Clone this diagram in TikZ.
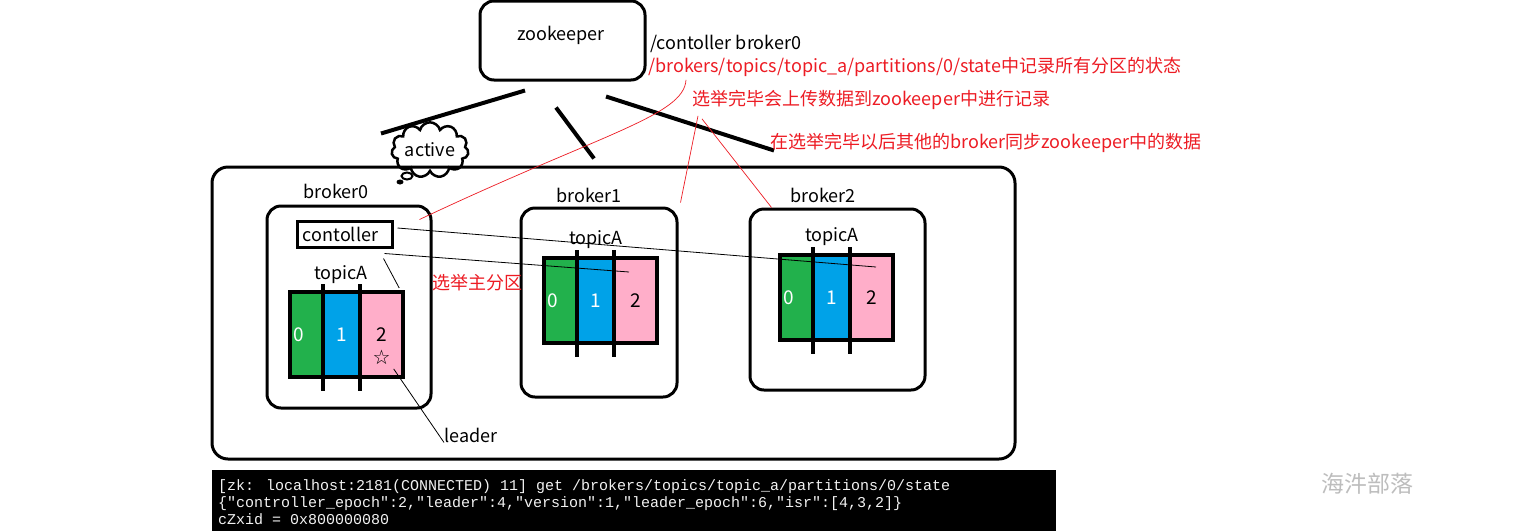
\documentclass[tikz,border=0pt]{standalone}
\usepackage{fontspec}
\setmainfont{Noto Sans CJK SC}
\newfontfamily\termfont{Liberation Mono}
\newfontfamily\symfont{DejaVu Sans}
\usetikzlibrary{shapes.symbols, shapes.geometric, positioning}
\definecolor{notered}{HTML}{ED1C24}
\definecolor{partgreen}{HTML}{22B14C}
\definecolor{partblue}{HTML}{00A2E8}
\definecolor{partpink}{HTML}{FFAEC9}
\definecolor{markgray}{HTML}{BDBDBD}

\begin{document}
\begin{tikzpicture}[x=1pt, y=-1pt,
    roundbox/.style={rectangle, draw, line width=3pt, rounded corners=#1, inner sep=0pt},
    roundbox/.default=14pt,
    lbl/.style={font=\fontsize{18}{20}\selectfont, inner sep=0pt},
    note/.style={lbl, text=notered, anchor=west},
    part/.style={rectangle, fill=#1, minimum height=85pt, inner sep=0pt, anchor=north west,
                 font=\fontsize{19}{20}\selectfont},
    divider/.style={line width=4pt},
    zkline/.style={line width=4pt},
    thinline/.style={line width=0.8pt},
    redline/.style={draw=notered, line width=0.7pt},
]
    \fill[white] (0,0) rectangle (1515,531);
    \useasboundingbox (0,0) rectangle (1515,531);

    % -- zookeeper --
    \node[roundbox, minimum width=165pt, minimum height=79pt] (zk) at (562.5,40.5) {};
    \node[lbl] (zkname) at (561,35) {zookeeper};

    % -- cluster and brokers --
    \node[roundbox=16pt, minimum width=803pt, minimum height=292pt] (cluster) at (613.5,313) {};
    \node[roundbox, minimum width=164pt, minimum height=202pt] (b0) at (349,307) {};
    \node[roundbox, minimum width=156pt, minimum height=189pt] (b1) at (599,302.5) {};
    \node[roundbox, minimum width=175pt, minimum height=181pt] (b2) at (837.5,299.5) {};

    \node[lbl] (b0name) at (336,191) {broker0};
    \node[lbl] (b1name) at (589,195) {broker1};
    \node[lbl] (b2name) at (823,195) {broker2};

    \node[lbl] (b0topic) at (341,275) {topicA};
    \node[lbl] (b1topic) at (596,240) {topicA};
    \node[lbl] (b2topic) at (832,237) {topicA};

    \node[lbl, draw, line width=3pt, minimum width=95pt, minimum height=26pt] (ctl) at (344.5,234) {contoller\hspace*{8pt}};

    % partitions 0 1 2 of every broker
    \foreach \br/\px/\py in {b0/290/292, b1/544/258, b2/780/255}{
        \node[part=partgreen, minimum width=33pt,
              label={[font=\fontsize{19}{20}\selectfont, inner sep=0pt, text=white, xshift=-8pt]center:0}] (\br p0) at (\px,\py) {};
        \node[part=partblue, minimum width=36pt, text=white] (\br p1) at (\br p0.north east) {1};
        \node[part=partpink, minimum width=43pt] (\br p2) at (\br p1.north east) {2};
        \draw[line width=4pt] (\br p0.north west) rectangle (\br p2.south east);
        \draw[divider] ([yshift=8pt]\br p0.north east) -- ([yshift=-14pt]\br p0.south east);
        \draw[divider] ([yshift=8pt]\br p1.north east) -- ([yshift=-14pt]\br p1.south east);
    }

    % leader mark
    \node[font=\symfont\fontsize{20}{20}\selectfont, inner sep=1pt] (star) at ([yshift=20pt]b0p2.south) {☆};
    \node[lbl, anchor=west] (leader) at (444,435) {leader};
    \draw[thinline] ([xshift=2pt,yshift=-3pt]star.south east) -- (leader.south west);

    % active cloud
    \node[cloud, draw, line width=2.5pt, cloud puffs=11, aspect=1.7, minimum width=76pt,
          minimum height=48pt, lbl] (active) at (430,150) {active};
    \node[ellipse, draw, line width=2pt, minimum width=11pt, minimum height=7pt, inner sep=0pt] (puff1) at (407,176) {};
    \node[ellipse, fill, minimum width=7pt, minimum height=5pt, inner sep=0pt] (puff2) at (400,182) {};

    % zookeeper to brokers
    \draw[zkline] ([xshift=-37.5pt,yshift=-9pt]zk.south) -- ([xshift=-232.5pt,yshift=32pt]cluster.north);
    \draw[zkline] ([xshift=-6.5pt,yshift=-26pt]zk.south) -- ([xshift=-19.5pt,yshift=7pt]cluster.north);
    \draw[zkline] ([xshift=43.5pt,yshift=-15pt]zk.south) -- ([xshift=160.5pt,yshift=15pt]cluster.north);

    % controller to partitions
    \draw[thinline] ([xshift=4pt,yshift=6pt]ctl.east) -- ([xshift=4.5pt,yshift=-12pt]b2p2.north);
    \draw[thinline] ([xshift=-9pt,yshift=-5pt]ctl.south east) -- ([xshift=-6.5pt,yshift=-14pt]b1p2.north);
    \draw[thinline] ([xshift=-10pt,yshift=-10pt]ctl.south east) -- ([xshift=-4pt,yshift=4pt]b0p2.north east);

    % notes
    \node[lbl, anchor=west] (ctlpath) at (650,44) {/contoller broker0};
    \node[note] (statepath) at (648,67) {/brokers/topics/topic\_a/partitions/0/state中记录所有分区的状态};
    \node[note] (upload) at (692,100) {选举完毕会上传数据到zookeeper中进行记录};
    \node[note] (sync) at (770,143) {在选举完毕以后其他的broker同步zookeeper中的数据};
    \node[note] (elect) at (432,283) {选举主分区};

    \draw[redline] ([xshift=38pt,yshift=-3pt]statepath.south west) .. controls +(-2,36) and +(182,-86) .. ([xshift=-13pt,yshift=-15pt]b0.north east);
    \draw[redline] ([xshift=6pt,yshift=-6pt]upload.south west) -- ([xshift=2pt,yshift=4pt]b1.north east);
    \draw[redline] ([xshift=10pt,yshift=-9pt]upload.south west) -- ([xshift=23pt]b2.north west);

    % zkCli output
    \node[rectangle, fill=black, minimum width=844pt, minimum height=61pt, inner sep=0pt] (term) at (634,500.5) {};
    \node[anchor=west, align=left, text=gray!10, inner sep=0pt,
          font=\termfont\fontsize{15}{17}\selectfont] (cmd) at (218,502)
        {[zk: localhost:2181(CONNECTED) 11] get /brokers/topics/topic\_a/partitions/0/state\\
         \{"controller\_epoch":2,"leader":4,"version":1,"leader\_epoch":6,"isr":[4,3,2]\}\\
         cZxid = 0x800000080};

    \node[font=\fontsize{23}{23}\selectfont, text=markgray] (mark) at (1367,484) {海汼部落};
\end{tikzpicture}
\end{document}
